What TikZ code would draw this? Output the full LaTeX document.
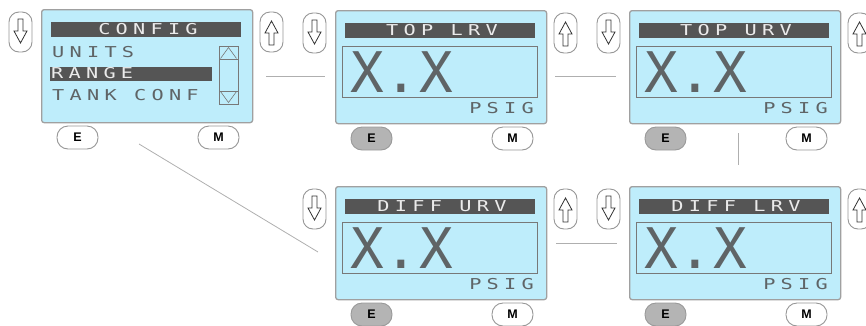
\documentclass[tikz,border=0pt]{standalone}
\usepackage{fontspec}
\newfontfamily\lcdfont[LetterSpace=35,FakeStretch=1.35]{DejaVu Sans Mono}
\newfontfamily\bigfont[LetterSpace=2]{DejaVu Sans Mono}
\newfontfamily\btnfont{Liberation Sans}
\definecolor{lcdbg}{RGB}{190,237,251}
\definecolor{framegray}{RGB}{160,160,160}
\definecolor{bardark}{RGB}{85,85,85}
\definecolor{titletext}{RGB}{235,235,235}
\definecolor{lcdtext}{RGB}{95,100,102}
\definecolor{boxline}{RGB}{120,120,120}
\definecolor{btnedge}{RGB}{150,150,150}
\definecolor{btngray}{RGB}{180,180,180}
\definecolor{linegray}{RGB}{175,175,175}
\tikzset{
  screen/.style={draw=framegray, fill=lcdbg, line width=1.3pt, rounded corners=2.5pt, inner sep=0pt},
  sidebtn/.style={draw=btnedge, fill=white, line width=0.9pt, rounded corners=10pt, minimum width=23pt, minimum height=40pt, inner sep=0pt},
  arrowshape/.style={draw=black!80, fill=white, line width=0.8pt, line join=miter},
  keybtn/.style={draw=btnedge, fill=white, line width=0.9pt, rounded corners=11pt, minimum width=41pt, minimum height=23pt, inner sep=0pt, font=\btnfont\bfseries\fontsize{12.5}{12.5}\selectfont},
  keygray/.style={keybtn, fill=btngray, draw=btngray!85!black},
  titletxt/.style={inner sep=0pt, text=titletext, font=\lcdfont\fontsize{15}{15}\selectfont},
  menutxt/.style={inner sep=0pt, anchor=base west, text=lcdtext, font=\lcdfont\fontsize{15}{15}\selectfont},
  bigtxt/.style={inner sep=0pt, anchor=base west, text=lcdtext, font=\bigfont\fontsize{56}{56}\selectfont},
  valbox/.style={draw=boxline, line width=0.7pt},
  link/.style={draw=linegray, line width=0.8pt},
}
% #1 name, #2 x, #3 y, #4 title, #5 E style
\newcommand\lcdpanel[5]{%
  \begin{scope}[shift={(#2,#3)}]
    \node[screen, minimum width=211pt, minimum height=113pt, anchor=north west] (#1) at (0,0) {};
    \fill[bardark] (10,13) rectangle (200,28);
    \node[titletxt] (#1title) at (107,20.5) {#4};
    \node[sidebtn] (#1down) at (-20.5,23) {};
    \node[sidebtn] (#1up) at (230.5,23) {};
    \begin{scope}[shift={(-20.5,23)}]
      \draw[arrowshape] (-2.5,-13) -- (2.5,-13) -- (2.5,-1) -- (6.5,-1) -- (0,11) -- (-6.5,-1) -- (-2.5,-1) -- cycle;
    \end{scope}
    \begin{scope}[shift={(230.5,23)}]
      \draw[arrowshape] (-2.5,13) -- (2.5,13) -- (2.5,1) -- (6.5,1) -- (0,-11) -- (-6.5,1) -- (-2.5,1) -- cycle;
    \end{scope}
    \node[#5] (#1e) at (36.5,128.5) {E};
    \node[keybtn] (#1m) at (177.5,128.5) {M};
  \end{scope}}
\newcommand\valuepanel[5]{%
  \lcdpanel{#1}{#2}{#3}{#4}{#5}
  \begin{scope}[shift={(#2,#3)}]
    \draw[valbox] (7,36) rectangle (202,87);
    \node[bigtxt] (#1val) at (15,82) {X.X};
    \node[menutxt, anchor=base east] (#1unit) at (199,103) {PSIG};
  \end{scope}}
\begin{document}
\begin{tikzpicture}[x=1pt, y=-1pt]
  \useasboundingbox (0,0) rectangle (866,325);
  % panel 1: CONFIG menu
  \lcdpanel{pa}{41}{9}{CONFIG}{keybtn}
  \begin{scope}[shift={(41,9)}]
    \node[menutxt] (units) at (11,48) {UNITS};
    \fill[bardark] (9,58) rectangle (171,72);
    \node[menutxt, text=titletext] (range) at (10,69) {RANGE};
    \node[menutxt] (tank) at (11,91) {TANK CONF};
    \draw[boxline, line width=0.7pt] (178,37) rectangle (197,95);
    \draw[boxline, line width=0.7pt] (178,50) -- (197,50) (178,82) -- (197,82);
    \draw[boxline, line width=0.6pt] (179.5,49.5) -- (187.5,38.5) -- (195.5,49.5);
    \draw[boxline, line width=0.6pt] (179.5,82.5) -- (187.5,93.5) -- (195.5,82.5);
  \end{scope}
  \valuepanel{pb}{335}{10}{TOP LRV}{keygray}
  \valuepanel{pc}{629}{10}{TOP URV}{keygray}
  \valuepanel{pd}{335}{186}{DIFF URV}{keygray}
  \valuepanel{pe}{629}{186}{DIFF LRV}{keygray}
  % connectors
  \coordinate (l1a) at (266,76);  \coordinate (l1b) at (325,76);
  \coordinate (l2a) at (555,76);  \coordinate (l2b) at (616,76);
  \coordinate (l3a) at (738,133); \coordinate (l3b) at (738,165);
  \coordinate (l4a) at (139,144); \coordinate (l4b) at (318,252);
  \coordinate (l5a) at (556,243); \coordinate (l5b) at (617,243);
  \draw[link] (l1a) -- (l1b);
  \draw[link] (l2a) -- (l2b);
  \draw[link] (l3a) -- (l3b);
  \draw[link] (l4a) -- (l4b);
  \draw[link] (l5a) -- (l5b);
\end{tikzpicture}
\end{document}
